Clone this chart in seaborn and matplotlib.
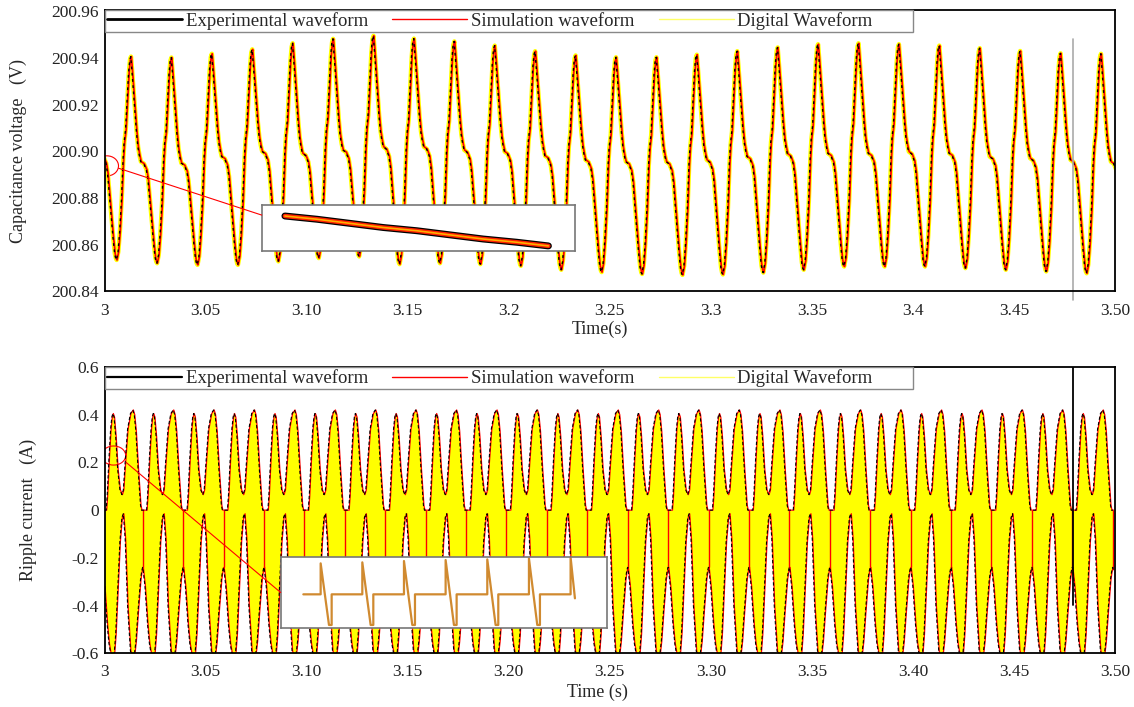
import numpy as np
import matplotlib
matplotlib.use('Agg')
import matplotlib.pyplot as plt
from matplotlib.lines import Line2D
from matplotlib.patches import Ellipse, ConnectionPatch
import seaborn as sns

sns.set_theme(style='white')
plt.rcParams['font.family'] = ['Liberation Serif', 'DejaVu Serif']

# ---- capacitance voltage: values read per 50 Hz cycle (trough, peak, shoulder)
v_start = 2.986          # trough of cycle -1
v_period = 0.02
v_trough = [200.8535, 200.8535, 200.8521, 200.8514, 200.8514, 200.8529, 200.8543,
            200.8550, 200.8517, 200.8521, 200.8517, 200.8510, 200.8493, 200.8483,
            200.8475, 200.8471, 200.8473, 200.8481, 200.8493, 200.8507, 200.8507,
            200.8507, 200.8500, 200.8493, 200.8486, 200.8478, 200.8480]
v_peak = [200.9406, 200.9406, 200.9402, 200.9418, 200.9437, 200.9463, 200.9482,
          200.9495, 200.9483, 200.9471, 200.9453, 200.9429, 200.9411, 200.9403,
          200.9403, 200.9414, 200.9429, 200.9445, 200.9459, 200.9463, 200.9459,
          200.9453, 200.9442, 200.9430, 200.9420, 200.9418]
v_shoulder = [200.8986, 200.8956, 200.8950, 200.8978, 200.9000, 200.8992, 200.9006,
              200.9020, 200.9020, 200.9006, 200.8999, 200.8981, 200.8964, 200.8956,
              200.8956, 200.8964, 200.8978, 200.8990, 200.8992, 200.8992, 200.8999,
              200.8992, 200.8978, 200.8971, 200.8964, 200.8956]

# shape of one cycle read from the first period
rise_phase = [0, 0.0008, 0.0016, 0.0025, 0.0033, 0.0038, 0.0045, 0.0052, 0.0060, 0.0066, 0.0071]
rise_frac = [0, 0.04, 0.14, 0.30, 0.50, 0.58, 0.64, 0.77, 0.92, 0.985, 1.0]
fall_phase = [0.0076, 0.0082, 0.0090, 0.0099, 0.0106, 0.0113, 0.0120]
fall_frac = [0.88, 0.72, 0.50, 0.28, 0.14, 0.06, 0.0]
drop_phase = [0.0135, 0.0148, 0.0156, 0.0165, 0.0174, 0.0183, 0.0191, 0.0196]
drop_frac = [0.98, 0.92, 0.82, 0.62, 0.42, 0.21, 0.06, 0.015]

# ---- ripple current envelope, one 0.02 s period
i_period = 0.02
i_cycles = 25
i_phase = [0.0000, 0.0008, 0.0013, 0.0022, 0.0030, 0.0036, 0.0041, 0.0047, 0.0055,
           0.0065, 0.0076, 0.0086, 0.0093, 0.0102, 0.0114, 0.0128, 0.0140, 0.0147,
           0.0155, 0.0166, 0.0178, 0.0183, 0.0188, 0.0190, 0.0191]
i_upper = [0.0, 0.0, 0.06, 0.22, 0.34, 0.39, 0.405, 0.39, 0.31, 0.17, 0.085, 0.065,
           0.085, 0.20, 0.34, 0.405, 0.42, 0.40, 0.33, 0.17, 0.02, 0.0, 0.0, 0.0, 0.0]
i_lower = [-0.32, -0.42, -0.48, -0.56, -0.60, -0.62, -0.625, -0.61, -0.52, -0.33,
           -0.13, -0.03, -0.015, -0.12, -0.40, -0.59, -0.625, -0.61, -0.55, -0.42,
           -0.29, -0.26, -0.24, -0.24, -0.25]
spike_phase = 0.0189      # red switching edge inside the gap at zero
spike_bottom = -0.24

# ---- zoomed insets
ins1_x = [0.074, 0.176, 0.282, 0.388, 0.495, 0.601, 0.707, 0.814, 0.915]
ins1_y = [0.76, 0.69, 0.60, 0.51, 0.44, 0.35, 0.26, 0.19, 0.11]
ins2_tops = [0.93, 0.96, 1.00, 1.03, 1.05, 1.08, 1.11]

top_xticks = [3.0, 3.05, 3.10, 3.15, 3.20, 3.25, 3.30, 3.35, 3.40, 3.45, 3.50]
top_xlabels = ['3', '3.05', '3.10', '3.15', '3.2', '3.25', '3.3', '3.35', '3.4', '3.45', '3.50']
bot_xlabels = ['3', '3.05', '3.10', '3.15', '3.20', '3.25', '3.30', '3.35', '3.40', '3.45', '3.50']
top_yticks = [200.84, 200.86, 200.88, 200.90, 200.92, 200.94, 200.96]
bot_yticks = [-0.6, -0.4, -0.2, 0, 0.2, 0.4, 0.6]
bot_ylabels = ['-0.6', '-0.4', '-0.2', '0', '0.2', '0.4', '0.6']
legend_names = ['Experimental waveform', 'Simulation waveform', 'Digital Waveform']


def voltage_curve(shift):
    t, v = [], []
    for k in range(len(v_peak)):
        t0 = v_start + k * v_period + shift
        tr, pk, sh, tr2 = v_trough[k], v_peak[k], v_shoulder[k], v_trough[k + 1]
        for p, f in zip(rise_phase, rise_frac):
            t.append(t0 + p); v.append(tr + f * (pk - tr))
        for p, f in zip(fall_phase, fall_frac):
            t.append(t0 + p); v.append(sh + f * (pk - sh))
        for p, f in zip(drop_phase, drop_frac):
            t.append(t0 + p); v.append(tr2 + f * (sh - tr2))
    return np.array(t), np.array(v)


def current_curve(shift):
    t = np.concatenate([3.0 + k * i_period + np.array(i_phase) for k in range(i_cycles)])
    up = np.tile(i_upper, i_cycles)
    lo = np.tile(i_lower, i_cycles)
    return t + shift, up, lo


def add_legend(ax, first_lw):
    handles = [Line2D([], [], color='black', lw=first_lw),
               Line2D([], [], color='#ff0000', lw=1.0),
               Line2D([], [], color='#ffff66', lw=1.0)]
    # legend box in the original runs on past the last label
    labels = legend_names[:-1] + [legend_names[-1] + '        ']
    leg = ax.legend(handles, labels, loc='upper left', bbox_to_anchor=(0, 1), ncol=3,
                    fancybox=False, edgecolor='#888888', framealpha=1, borderaxespad=0,
                    handlelength=4.0, columnspacing=1.3, handletextpad=0.2,
                    borderpad=0.12, fontsize=13.5)
    leg.get_frame().set_linewidth(1.0)


fig = plt.figure(figsize=(11.34, 7.07), dpi=100)
ax1 = fig.add_axes([0.0922, 0.5877, 0.8910, 0.3983])
ax2 = fig.add_axes([0.0922, 0.0759, 0.8910, 0.4050])

# ---------- top: capacitance voltage
t, v = voltage_curve(0.0)
sns.lineplot(x=t, y=v, ax=ax1, color='#ffff00', lw=3.2, sort=False, estimator=None)
t, v = voltage_curve(0.00018)
sns.lineplot(x=t, y=v, ax=ax1, color='#ff0000', lw=1.3, sort=False, estimator=None)
t, v = voltage_curve(-0.00012)
ax1.plot(t, v, color='black', lw=1.0, ls=(0, (2, 2.5)))
ax1.axvline(3.479, ymin=-0.03, ymax=0.895, color='#aaaaaa', lw=1.2, clip_on=False)

ax1.set_xlim(3.0, 3.5)
ax1.set_ylim(200.84, 200.9606)
ax1.set_xticks(top_xticks)
ax1.set_xticklabels(top_xlabels)
ax1.set_yticks(top_yticks)
ax1.set_yticklabels([f'{y:.2f}' for y in top_yticks])
ax1.set_xlabel('Time(s)', fontsize=13)
ax1.set_ylabel('Capacitance voltage   (V)', fontsize=13)
ax1.xaxis.set_label_coords(0.49, -0.102)
ax1.yaxis.set_label_coords(-0.077, 0.5)
add_legend(ax1, 2.0)

ell1 = Ellipse((3.0012, 200.8938), 0.0114, 0.0086, fill=False, ec='red', lw=0.8)
ax1.add_patch(ell1)

ins1 = fig.add_axes([0.2308, 0.645, 0.2763, 0.0651])
ins1.plot(ins1_x, ins1_y, color='black', lw=5, solid_capstyle='round')
ins1.plot(ins1_x, ins1_y, color='#ff2000', lw=3.2, solid_capstyle='round')
ins1.plot(ins1_x, ins1_y, color='#ffb000', lw=1.2, solid_capstyle='round')
ins1.set_xlim(0, 1)
ins1.set_ylim(0, 1)
ins1.set_xticks([])
ins1.set_yticks([])
for s in ins1.spines.values():
    s.set_color('#777777'); s.set_linewidth(1.2)
fig.add_artist(ConnectionPatch(xyA=(3.0069, 200.8928), coordsA=ax1.transData,
                               xyB=(0, 0.78), coordsB=ins1.transAxes,
                               color='red', lw=0.8))

# ---------- bottom: ripple current
t, up, lo = current_curve(0.0)
ax2.fill_between(t, lo, up, color='#ffff00', lw=0)
spikes = 3.0 + spike_phase + i_period * np.arange(i_cycles)
ax2.vlines(spikes, spike_bottom, 0, color='#ff0000', lw=1.0)
t, up, lo = current_curve(0.00025)
sns.lineplot(x=t, y=up, ax=ax2, color='#ff0000', lw=0.9, sort=False, estimator=None)
sns.lineplot(x=t, y=lo, ax=ax2, color='#ff0000', lw=0.9, sort=False, estimator=None)
t, up, lo = current_curve(0.0)
ax2.plot(t, up, color='black', lw=0.8, ls=(0, (3, 2)))
ax2.plot(t, lo, color='black', lw=0.8, ls=(0, (3, 2)))
ax2.axvline(3.479, ymin=0.17, ymax=1.0, color='black', lw=1.3)

ax2.set_xlim(3.0, 3.5)
ax2.set_ylim(-0.6, 0.6)
ax2.set_xticks(top_xticks)
ax2.set_xticklabels(bot_xlabels)
ax2.set_yticks(bot_yticks)
ax2.set_yticklabels(bot_ylabels)
ax2.set_xlabel('Time (s)', fontsize=13)
ax2.set_ylabel('Ripple current   (A)', fontsize=13)
ax2.xaxis.set_label_coords(0.488, -0.105)
ax2.yaxis.set_label_coords(-0.067, 0.5)
add_legend(ax2, 1.6)

ell2 = Ellipse((3.0045, 0.229), 0.0119, 0.08, fill=False, ec='red', lw=0.8)
ax2.add_patch(ell2)

ins2 = fig.add_axes([0.2475, 0.1113, 0.2880, 0.1013])
px, py = [0.544], [0.0]
for k, top in enumerate(ins2_tops):
    if k < len(ins2_tops) - 1:
        px += [0.96 + k, 0.96 + k, 1.16 + k, 1.224 + k, 1.224 + k]
        py += [0.0, top, -0.92, -0.92, 0.0]
    else:
        px += [0.96 + k, 0.96 + k, 1.064 + k]
        py += [0.0, top, -0.12]
ins2.plot(px, py, color='#d08a30', lw=1.6)
ins2.set_xlim(0, 7.84)
ins2.set_ylim(-1.02, 1.13)
ins2.set_xticks([])
ins2.set_yticks([])
for s in ins2.spines.values():
    s.set_color('#777777'); s.set_linewidth(1.2)
fig.add_artist(ConnectionPatch(xyA=(3.0107, 0.20), coordsA=ax2.transData,
                               xyB=(0, 0.5), coordsB=ins2.transAxes,
                               color='red', lw=0.8))

for ax in (ax1, ax2):
    for s in ax.spines.values():
        s.set_color('black'); s.set_linewidth(1.3)
    ax.tick_params(axis='x', direction='in', length=8, width=1, color='#999999',
                   labelsize=12.5, labelcolor='#222222', pad=8)
    ax.tick_params(axis='y', direction='in', length=3, width=1, color='#999999',
                   labelsize=12.5, labelcolor='#222222', pad=4)
    ax.tick_params(top=False, right=False)

fig.savefig('out.png', dpi=100, facecolor='white')
